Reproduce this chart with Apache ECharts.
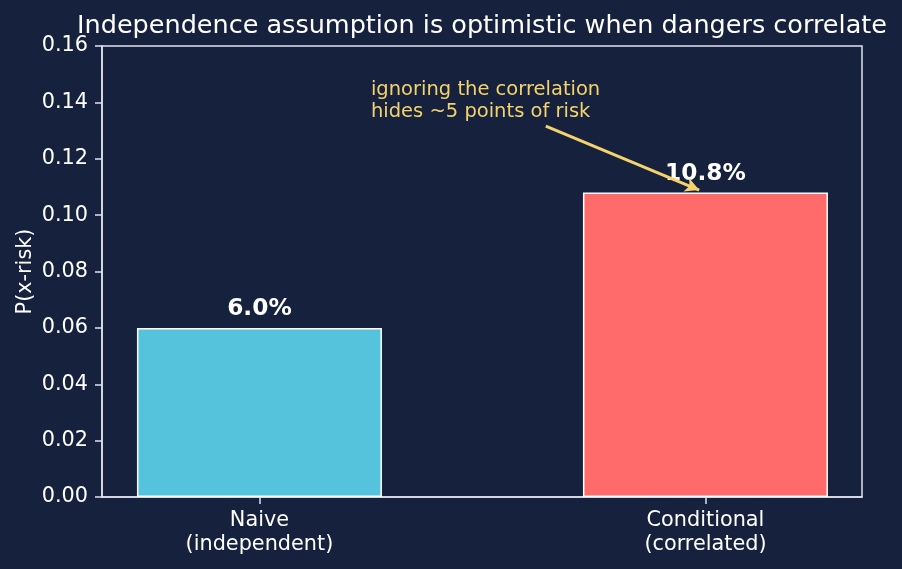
<!DOCTYPE html>
<html>
<head>
<meta charset="utf-8">
<script src="https://cdn.jsdelivr.net/npm/echarts@6/dist/echarts.min.js"></script>
<style>
  html, body { margin: 0; padding: 0; background: #16213e; }
  #chart { width: 902px; height: 569px; }
</style>
</head>
<body>
<div id="chart"></div>
<script>
// data
var categories = ['Naive\n(independent)', 'Conditional\n(correlated)'];
var values = [0.060, 0.108];
var noteText = 'ignoring the correlation\nhides ~5 points of risk';
var noteAt = [0.25, 0.135];
var arrowFrom = [0.642, 0.1316];
var arrowTo = [0.986, 0.1089];

var font = 'DejaVu Sans';
var fg = '#ffffff';
var axisCol = '#dfe4ee';
var yellow = '#f5d36b';
var barColors = ['#56c3dc', '#ff6b6b'];

var chart = echarts.init(document.getElementById('chart'));

var option = {
  backgroundColor: '#16213e',
  animation: false,
  textStyle: { fontFamily: font },
  title: {
    text: 'Independence assumption is optimistic when dangers correlate',
    left: 477,
    textAlign: 'center',
    top: 8,
    textStyle: { color: fg, fontFamily: font, fontSize: 25.5, fontWeight: 'normal' }
  },
  grid: {
    left: 102,
    right: 40,
    top: 46,
    bottom: 72,
    show: true,
    borderColor: axisCol,
    borderWidth: 1.5,
    backgroundColor: 'transparent'
  },
  xAxis: {
    type: 'value',
    min: -0.353,
    max: 1.351,
    splitLine: { show: false },
    axisLine: { show: true, onZero: false, lineStyle: { color: axisCol, width: 1.5 } },
    axisTick: { show: true, customValues: [0, 1], length: 7, lineStyle: { color: axisCol, width: 1.5 } },
    axisLabel: {
      customValues: [0, 1],
      color: fg,
      fontFamily: font,
      fontSize: 20.8,
      lineHeight: 24,
      margin: 12,
      formatter: function (v) { return categories[Math.round(v)]; }
    }
  },
  yAxis: {
    type: 'value',
    min: 0,
    max: 0.16,
    interval: 0.02,
    name: 'P(x-risk)',
    nameLocation: 'middle',
    nameRotate: 90,
    nameGap: 66,
    nameMoveOverlap: false,
    nameTextStyle: { color: fg, fontFamily: font, fontSize: 20.8 },
    splitLine: { show: false },
    axisLine: { show: true, onZero: false, lineStyle: { color: axisCol, width: 1.5 } },
    axisTick: { show: true, length: 7, lineStyle: { color: axisCol, width: 1.5 } },
    axisLabel: {
      color: fg,
      fontFamily: font,
      fontSize: 20.8,
      margin: 14,
      formatter: function (v) { return v.toFixed(2); }
    }
  },
  series: [{
    type: 'bar',
    barWidth: 245,
    data: values.map(function (v, i) {
      return {
        value: [i, v],
        itemStyle: { color: barColors[i], borderColor: '#ffffff', borderWidth: 1.5 }
      };
    }),
    label: {
      show: true,
      position: 'top',
      distance: 7,
      color: fg,
      fontFamily: font,
      fontSize: 23.3,
      fontWeight: 'bold',
      formatter: function (p) { return (p.value[1] * 100).toFixed(1) + '%'; }
    },
    markLine: {
      silent: true,
      symbol: ['none', 'arrow'],
      symbolSize: [11, 14],
      label: { show: false },
      lineStyle: { color: yellow, width: 3, type: 'solid' },
      data: [[{ coord: arrowFrom }, { coord: arrowTo }]]
    },
    markPoint: {
      silent: true,
      symbol: 'circle',
      symbolSize: 0,
      data: [{ coord: noteAt }],
      label: {
        show: true,
        position: [0, 0],
        align: 'left',
        verticalAlign: 'bottom',
        offset: [0, 6],
        color: yellow,
        fontFamily: font,
        fontSize: 19.5,
        lineHeight: 22,
        formatter: function () { return noteText; }
      }
    }
  }]
};

chart.setOption(option);
</script>
</body>
</html>
